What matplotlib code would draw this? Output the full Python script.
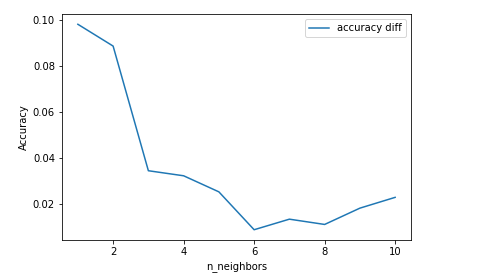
import matplotlib
matplotlib.use("Agg")
import matplotlib.pyplot as plt

n_neighbors = [1, 2, 3, 4, 5, 6, 7, 8, 9, 10]
accuracy_diff = [0.0983, 0.0888, 0.0345, 0.0323, 0.0253, 0.0088, 0.0134, 0.0111, 0.0182, 0.0229]

fig = plt.figure(figsize=(479 / 72, 277 / 72), dpi=72)
ax = fig.add_axes([62 / 479, 1 - 240 / 277, (411 - 62) / 479, (240 - 14) / 277])
ax.plot(n_neighbors, accuracy_diff, label="accuracy diff")
ax.set_xlabel("n_neighbors")
ax.set_ylabel("Accuracy")
ax.legend(loc="upper right")
fig.savefig("out.png", dpi=72)
